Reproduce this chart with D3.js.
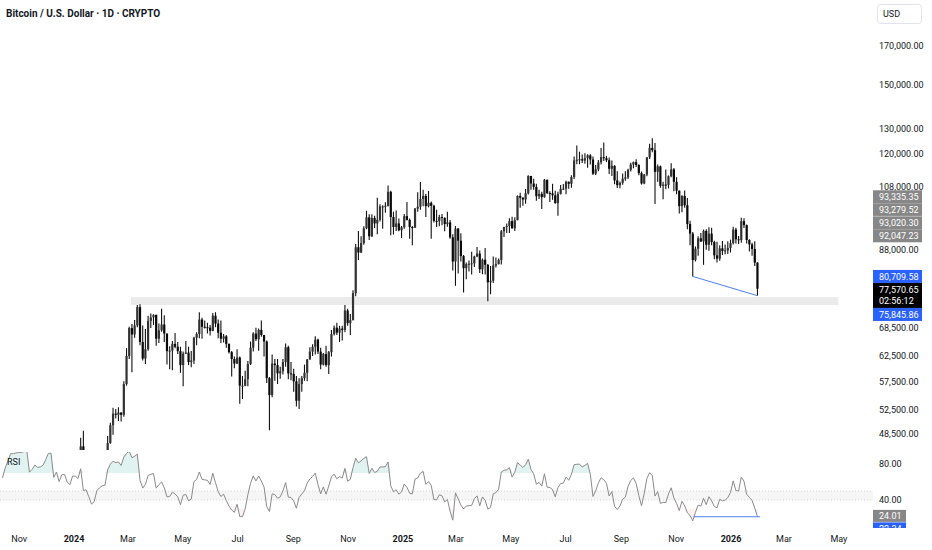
<!DOCTYPE html>
<html><head><meta charset="utf-8">
<script src="https://cdn.jsdelivr.net/npm/d3@7"></script>
<style>
body{margin:0;background:#fff;}
svg{display:block;font-family:Roboto,"Noto Sans",sans-serif;}
</style></head><body>
<svg id="chart" width="932" height="550"></svg>
<script>
// BTC/USD, 3-day bars, prices in thousands of USD
const barStart = "2023-10-13";
const barDays = 3;
// a few closes before the first bar, only used to warm up the RSI
const warmupCloses = [26.3,26.4,27.0,27.4,27.9,27.6,26.8];

const closes = [27.2,28.4,29.9,33.9,33.9,34.5,34.9,35.0,35.6,37.3,
35.5,36.2,37.5,37.3,37.4,37.8,39.5,44.1,44.2,41.2,
43.0,41.4,43.6,43.7,42.5,42.1,44.2,44.2,43.9,46.6,
42.9,43.1,41.6,39.6,40.0,42.0,42.6,43.0,43.1,47.1,
49.9,51.8,51.6,52.0,51.6,57.0,62.4,68.3,66.9,68.9,
73.1,65.3,61.9,63.8,69.9,70.7,71.3,66.0,67.8,69.1,
67.1,63.4,63.5,64.9,64.3,63.4,60.6,62.9,63.1,61.2,
61.5,66.2,67.0,70.2,68.6,68.5,68.4,67.7,71.1,69.3,
67.3,66.0,66.5,64.9,63.2,61.8,60.9,62.1,56.7,56.7,
57.9,60.8,64.1,67.1,65.9,67.9,66.8,65.4,58.1,55.0,
60.9,60.6,59.0,59.4,61.2,64.2,59.0,58.9,57.5,54.0,
57.0,58.1,59.1,61.7,63.3,64.3,65.8,63.3,60.7,62.8,
60.6,63.2,67.0,68.4,67.3,68.2,67.9,72.3,69.4,70.1,
76.5,88.7,87.2,89.9,94.3,97.7,91.9,97.5,95.8,96.9,
101.2,101.2,101.4,106.1,97.8,94.7,95.8,93.7,94.6,98.1,
96.9,94.7,94.5,100.5,101.1,103.7,104.7,101.3,102.4,101.4,
96.6,96.5,97.8,97.5,95.6,96.1,91.6,84.7,94.2,90.6,
86.2,82.9,84.0,84.1,84.2,86.1,86.9,82.6,85.2,83.8,
79.2,79.6,83.6,84.0,85.1,93.4,94.7,95.0,96.5,94.3,
96.8,104.7,104.1,103.5,105.6,111.7,109.0,107.8,104.6,105.4,
104.3,110.3,105.7,105.6,104.9,102.3,105.4,107.1,107.2,109.6,
108.9,111.3,117.4,117.7,117.9,117.4,118.3,119.4,117.8,112.5,
114.1,116.7,118.7,118.3,117.5,114.3,115.4,110.1,108.4,109.2,
110.7,111.2,113.9,115.9,116.8,115.7,112.7,109.0,112.2,118.6,
122.3,121.4,113.2,115.2,108.2,108.6,108.5,111.6,114.1,109.6,
106.5,101.3,104.7,101.6,95.6,92.7,85.1,88.3,91.3,90.4,
93.5,89.4,92.7,90.2,86.4,85.5,88.4,87.6,87.8,88.5,
89.9,93.9,91.0,90.8,96.5,95.3,90.8,89.5,88.2,84.4,
77.57];

const highs = [27.3,28.6,30.2,35.0,35.1,34.8,35.9,35.3,35.9,37.9,
37.4,37.9,37.6,37.8,38.4,38.2,39.6,44.4,44.7,44.3,
43.4,43.1,44.2,44.3,43.9,43.7,44.2,45.9,44.5,47.9,
49.0,43.6,43.2,42.0,40.5,42.8,43.8,43.5,43.4,48.2,
50.3,52.8,52.6,52.9,51.9,57.5,64.0,68.6,69.2,70.1,
73.6,73.8,68.9,68.1,71.1,71.6,71.4,71.3,69.3,72.7,
71.2,65.5,64.4,65.5,67.2,65.3,64.3,63.3,65.5,64.3,
63.4,66.4,67.4,71.9,70.6,70.0,69.5,69.0,71.7,71.9,
70.2,70.0,67.0,66.8,65.0,63.4,62.3,63.8,62.3,58.5,
59.5,61.4,65.4,67.4,68.4,68.2,70.0,66.8,65.6,58.3,
62.7,61.8,61.8,60.3,61.8,65.0,64.5,61.2,59.9,58.5,
58.1,58.5,60.7,61.8,64.2,64.8,66.5,66.0,64.1,63.0,
64.5,63.4,67.9,68.9,69.5,68.8,68.8,73.6,72.7,71.5,
77.2,89.6,93.5,91.9,94.9,99.8,98.7,98.7,98.2,104.1,
101.9,101.6,102.6,108.3,106.5,99.5,99.9,97.3,95.0,98.8,
102.7,97.3,95.0,100.7,106.0,109.5,106.8,105.4,106.4,102.8,
101.8,100.1,98.5,98.8,97.7,99.5,96.9,92.5,95.0,94.4,
92.8,86.5,84.4,85.0,87.4,86.3,88.8,87.8,85.5,88.5,
84.0,83.5,86.1,85.8,85.5,93.8,94.8,95.8,97.4,97.9,
97.7,104.9,105.8,104.3,107.1,111.9,111.3,110.7,108.9,106.8,
106.1,110.6,110.4,106.3,108.9,106.5,106.1,108.5,108.8,110.0,
109.7,111.9,118.9,123.2,120.8,119.7,120.2,119.8,119.8,118.9,
115.7,117.6,122.3,124.4,119.2,118.6,117.4,115.6,113.4,109.7,
112.6,113.4,114.3,116.6,117.0,117.9,116.0,113.3,112.4,118.7,
123.9,126.2,124.2,115.9,115.5,109.6,114.0,111.9,116.4,114.6,
111.2,106.6,104.9,106.6,104.0,96.6,93.2,88.9,91.9,92.9,
93.9,94.0,94.6,94.5,90.6,90.3,89.3,90.5,89.5,90.4,
90.9,94.8,94.5,92.0,97.6,97.4,95.5,91.0,90.0,90.4,
84.5];

const lows = [26.6,27.1,28.3,29.7,33.7,33.9,34.1,34.1,34.6,35.5,
35.3,35.5,36.2,35.7,37.2,36.9,37.5,39.4,43.3,40.2,
40.6,41.2,40.5,43.3,41.5,41.5,41.5,40.8,43.4,43.2,
41.8,41.7,40.3,39.4,38.5,39.8,42.0,41.9,42.3,42.8,
47.0,48.4,51.0,50.6,50.5,51.3,56.7,61.8,59.2,66.2,
68.5,64.6,61.5,60.8,63.5,68.3,69.0,64.5,65.1,67.5,
65.3,60.7,59.8,59.6,64.0,62.8,59.1,56.6,62.8,60.6,
60.2,60.8,64.6,66.1,66.0,68.2,67.1,66.7,67.6,68.5,
66.1,65.1,65.2,64.1,62.9,58.4,60.0,60.8,53.5,54.3,
56.6,56.6,60.6,63.3,65.5,63.5,66.4,62.3,57.2,49.1,
54.6,57.6,57.0,58.0,58.8,60.3,57.9,57.7,55.6,53.0,
52.6,55.6,57.6,57.5,61.7,62.4,62.7,62.8,59.8,60.5,
60.3,58.9,62.3,66.7,66.8,65.3,65.6,67.4,68.8,66.8,
70.0,75.7,85.1,87.1,89.4,94.0,90.8,91.7,94.4,92.5,
96.4,94.2,99.2,101.2,92.2,92.4,93.5,93.4,91.4,94.2,
96.7,91.2,89.3,94.4,99.5,100.1,101.3,97.8,100.9,91.2,
96.1,94.7,94.9,95.2,93.4,94.8,91.2,82.3,78.3,81.5,
84.7,76.6,80.0,82.0,81.2,83.2,85.9,81.6,81.3,81.2,
74.5,76.2,79.0,83.1,83.9,83.9,91.7,92.9,92.9,94.2,
93.5,96.8,100.8,101.4,102.1,105.2,106.8,106.8,103.1,103.7,
100.4,104.1,105.4,102.7,103.4,102.1,98.2,105.2,106.7,105.3,
107.2,107.5,110.6,116.0,116.0,116.5,116.2,114.7,115.9,112.0,
112.0,113.4,115.9,117.2,116.8,112.4,111.7,108.7,107.4,107.3,
108.6,110.0,110.6,113.3,114.5,115.0,111.9,108.6,108.7,111.6,
118.0,120.6,102.0,109.6,107.5,103.6,107.0,107.3,111.2,106.3,
105.3,98.9,99.3,100.8,94.0,89.3,80.7,84.7,86.3,90.2,
83.8,88.0,87.7,89.3,85.3,84.4,84.9,86.5,86.7,86.8,
87.2,89.5,89.8,89.6,90.0,94.4,89.8,87.5,86.3,83.5,
75.85];

const priceTicks = [170000,150000,130000,120000,108000,88000,68500,62500,57500,52500,48500];
const rsiTicks = [80,40];
const rsiBand = [40,50];
const zoneDates = ["2024-03-05","2026-05-01"];
const zonePrices = [73600,75500];
const trendDates = ["2025-11-20","2026-01-31"];
const trendPrices = [80709.58,75845.86];
const rsiTrendDates = ["2025-11-21","2026-02-03"];
const rsiTrendValue = 21.4;
const markPrices = [93335.35,93279.52,93020.30,92047.23];
const lastPrice = 77570.65;
const countdown = "02:56:12";
const lowPrices = [80709.58,75845.86];
const rsiLabels = [24.01,22.34];
const rsiPeriod = 7;

const parse = d3.timeParse("%Y-%m-%d");
const fmt2 = d3.format(",.2f");
const svg = d3.select("#chart");

const x = d3.scaleTime()
  .domain([new Date(2024,0,1), new Date(2026,0,1)])
  .range([73.5, 730.5]);
const y = d3.scaleLog().domain([48500,170000]).range([434,46]);
const r = d3.scaleLinear().domain([40,80]).range([500,464]);

// build bars; open is the previous close
const t0 = parse(barStart);
const bars = closes.map((c,i) => {
  const o = i ? closes[i-1] : warmupCloses[warmupCloses.length-1];
  return {
    d: d3.timeDay.offset(t0, i*barDays + 1),
    o: o*1000, c: c*1000,
    h: Math.max(highs[i],o,c)*1000,
    l: Math.min(lows[i],o,c)*1000
  };
});

// RSI (Wilder) over the closes, warmed up with the earlier closes
const allC = warmupCloses.concat(closes);
let ag = 0, al = 0;
const rsiAll = [];
for (let i = 1; i < allC.length; i++) {
  const ch = allC[i]-allC[i-1];
  const g = Math.max(ch,0), l = Math.max(-ch,0);
  if (i <= rsiPeriod) { ag += g/rsiPeriod; al += l/rsiPeriod; }
  else { ag = (ag*(rsiPeriod-1)+g)/rsiPeriod; al = (al*(rsiPeriod-1)+l)/rsiPeriod; }
  rsiAll.push(al === 0 ? 100 : 100 - 100/(1+ag/al));
}
const rsi = rsiAll.slice(warmupCloses.length-1).map((v,i) => ({d: bars[i].d, v}));

const defs = svg.append("defs");
defs.append("clipPath").attr("id","pclip").append("rect")
  .attr("x",0).attr("y",0).attr("width",873).attr("height",450);
defs.append("clipPath").attr("id","rclip").append("rect")
  .attr("x",0).attr("y",452).attr("width",873).attr("height",75);

// ---- price pane
const pg = svg.append("g").attr("clip-path","url(#pclip)");

pg.append("rect")
  .attr("x", x(parse(zoneDates[0])))
  .attr("width", x(parse(zoneDates[1])) - x(parse(zoneDates[0])))
  .attr("y", y(zonePrices[1]))
  .attr("height", y(zonePrices[0]) - y(zonePrices[1]))
  .attr("fill","#ebebeb");

const bg = pg.append("g");
bg.selectAll("line").data(bars).join("line")
  .attr("x1", d => x(d.d)).attr("x2", d => x(d.d))
  .attr("y1", d => y(d.h)).attr("y2", d => y(d.l))
  .attr("stroke","#111").attr("stroke-width",1.1);
bg.selectAll("rect").data(bars).join("rect")
  .attr("x", d => x(d.d)-1.1).attr("width",2.2)
  .attr("y", d => y(Math.max(d.o,d.c)))
  .attr("height", d => Math.max(1, Math.abs(y(d.o)-y(d.c))))
  .attr("fill", d => d.c >= d.o ? "#333" : "#0a0a0a");

pg.append("line")
  .attr("x1", x(parse(trendDates[0]))).attr("y1", y(trendPrices[0]))
  .attr("x2", x(parse(trendDates[1]))).attr("y2", y(trendPrices[1]))
  .attr("stroke","#4f7ff0").attr("stroke-width",1);

// ---- RSI pane
const rg = svg.append("g").attr("clip-path","url(#rclip)");
rg.append("rect").attr("x",0).attr("width",873)
  .attr("y", r(rsiBand[1])).attr("height", r(rsiBand[0]) - r(rsiBand[1]))
  .attr("fill","#f6f6f6");
rsiBand.forEach(v => rg.append("line")
  .attr("x1",0).attr("x2",873).attr("y1",r(v)).attr("y2",r(v))
  .attr("stroke","#d6d6d6").attr("stroke-dasharray","1,2"));

rg.append("path").datum(rsi)
  .attr("d", d3.area().x(d => x(d.d)).y0(r(70)).y1(d => r(Math.max(d.v,70))))
  .attr("fill","rgba(8,153,129,0.12)");
rg.append("path").datum(rsi)
  .attr("d", d3.area().x(d => x(d.d)).y0(r(30)).y1(d => r(Math.min(d.v,30))))
  .attr("fill","rgba(242,54,69,0.08)");
rg.append("path").datum(rsi)
  .attr("d", d3.line().x(d => x(d.d)).y(d => r(d.v)))
  .attr("fill","none").attr("stroke","#8a8a8a").attr("stroke-width",1);
rg.append("line")
  .attr("x1", x(parse(rsiTrendDates[0]))).attr("x2", x(parse(rsiTrendDates[1])))
  .attr("y1", r(rsiTrendValue)).attr("y2", r(rsiTrendValue))
  .attr("stroke","#4f7ff0").attr("stroke-width",1);

svg.append("text").attr("x",7).attr("y",465).text("RSI")
  .attr("font-size",9).attr("fill","#131722");

// ---- time axis
const monthTicks = d3.timeMonth.every(2).range(new Date(2023,10,1), new Date(2026,5,1));
const xa = svg.append("g").attr("transform","translate(0,536)")
  .call(d3.axisBottom(x).tickValues(monthTicks).tickSize(0).tickPadding(0)
    .tickFormat(d => d.getMonth() === 0 ? d3.timeFormat("%Y")(d) : d3.timeFormat("%b")(d)));
xa.select(".domain").remove();
xa.selectAll("text").attr("font-size",9).attr("font-family","Roboto,sans-serif")
  .attr("fill","#131722")
  .attr("font-weight", d => d.getMonth() === 0 ? "bold" : "normal");

// ---- price axis
const ya = svg.append("g").attr("transform","translate(879,0)")
  .call(d3.axisRight(y).tickValues(priceTicks).tickSize(0).tickPadding(0).tickFormat(fmt2));
ya.select(".domain").remove();
ya.selectAll("text").attr("font-size",9).attr("font-family","Roboto,sans-serif").attr("fill","#131722");

const ra = svg.append("g").attr("transform","translate(879,0)")
  .call(d3.axisRight(r).tickValues(rsiTicks).tickSize(0).tickPadding(0).tickFormat(fmt2));
ra.select(".domain").remove();
ra.selectAll("text").attr("font-size",9).attr("font-family","Roboto,sans-serif").attr("fill","#131722");

// ---- price scale labels (stacked so they do not overlap)
const rowH = 13;
function tag(cy, text, fill, h) {
  svg.append("rect").attr("x",873).attr("y",cy-6.5).attr("width",49).attr("height",h||rowH).attr("fill",fill);
  svg.append("text").attr("x",879).attr("y",cy).attr("dy","0.35em")
    .attr("font-size",9).attr("fill","#fff").text(text);
}
let cy = Infinity;
markPrices.slice().sort((a,b) => a-b).forEach((p,i) => {
  cy = Math.min(y(p), cy - rowH);
  tag(cy, fmt2(p), "#878787");
  if (i === 2) svg.append("line").attr("x1",873).attr("x2",922)
    .attr("y1",cy+6.5).attr("y2",cy+6.5).attr("stroke","#b5b5b5");
});
let yb = y(lowPrices[0]);
tag(yb, fmt2(lowPrices[0]), "#2962ff");
yb = Math.max(y(lastPrice), yb + rowH);
tag(yb, fmt2(lastPrice), "#000", 2*rowH - 1);
svg.append("text").attr("x",879).attr("y",yb+11.5).attr("dy","0.35em")
  .attr("font-size",9).attr("fill","#fff").text(countdown);
yb = Math.max(y(lowPrices[1]), yb + 2*rowH - 1);
tag(yb, fmt2(lowPrices[1]), "#2962ff");

// RSI labels
let ry = r(rsiLabels[0]) + 1.5;
svg.append("rect").attr("x",873).attr("y",ry-6).attr("width",33).attr("height",12).attr("fill","#878787");
svg.append("text").attr("x",879).attr("y",ry).attr("dy","0.35em").attr("font-size",9).attr("fill","#fff").text(rsiLabels[0].toFixed(2));
ry = Math.max(r(rsiLabels[1]), ry + 12.5);
svg.append("rect").attr("x",873).attr("y",ry-6).attr("width",33).attr("height",12).attr("fill","#2962ff");
svg.append("text").attr("x",879).attr("y",ry).attr("dy","0.35em").attr("font-size",9).attr("fill","#fff").text(rsiLabels[1].toFixed(2));
// time-axis strip hides the overflowing RSI tag
svg.append("rect").attr("x",860).attr("y",528).attr("width",72).attr("height",22).attr("fill","#fff");

// ---- header
svg.append("text").attr("x",6).attr("y",17)
  .attr("font-size",10).attr("font-weight","bold").attr("fill","#131722")
  .text("Bitcoin / U.S. Dollar · 1D · CRYPTO");
svg.append("rect").attr("x",877.5).attr("y",4.5).attr("width",44).attr("height",19)
  .attr("rx",3).attr("fill","#fff").attr("stroke","#e0e3eb");
svg.append("text").attr("x",883).attr("y",14).attr("dy","0.35em")
  .attr("font-size",9).attr("fill","#131722").text("USD");
</script>
</body></html>
